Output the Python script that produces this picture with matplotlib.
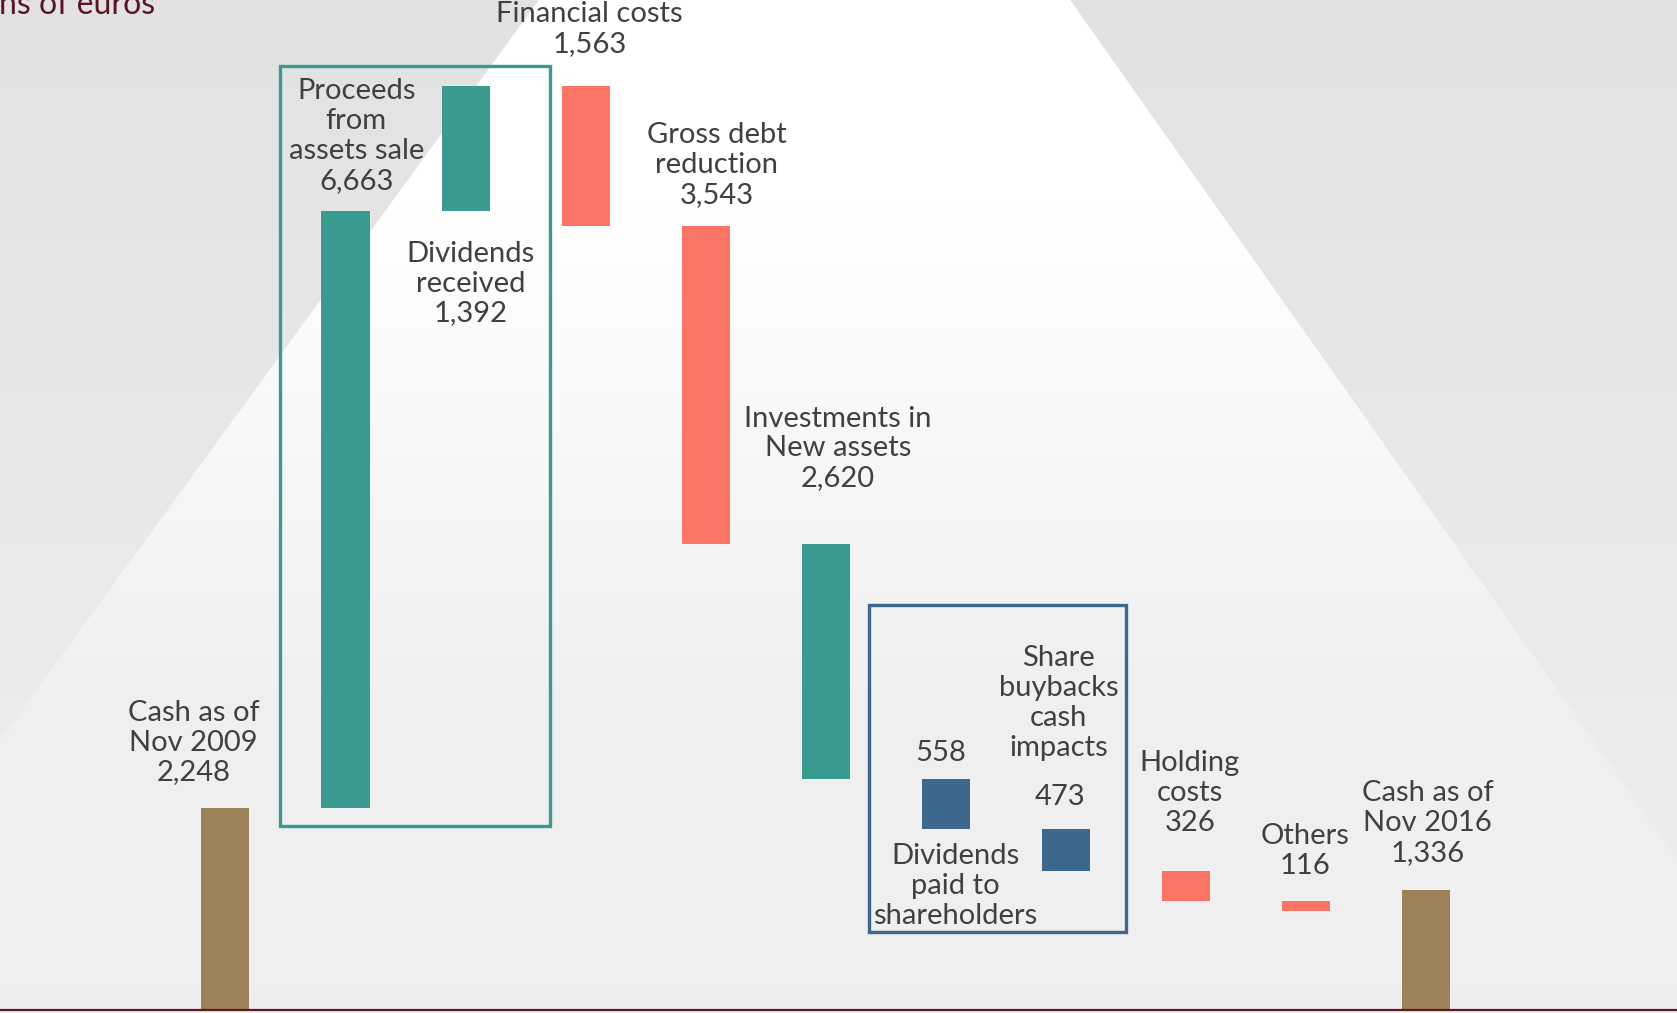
import numpy as np
import matplotlib
matplotlib.use("Agg")
import matplotlib.pyplot as plt
from matplotlib.patches import Rectangle

# ---------------- data ----------------
categories = ["Cash as of\nNov 2009", "Proceeds\nfrom\nassets sale", "Dividends\nreceived",
              "Financial costs", "Gross debt\nreduction", "Investments in\nNew assets",
              "Dividends\npaid to\nshareholders", "Share\nbuybacks\ncash\nimpacts",
              "Holding\ncosts", "Others", "Cash as of\nNov 2016"]
values = [2248, 6663, 1392, -1563, -3543, -2620, -558, -473, -326, -116, 1336]
is_total = [True, False, False, False, False, False, False, False, False, False, True]
bar_colors = ["#9c8259", "#3a9a8f", "#3a9a8f", "#fb7466", "#fb7466", "#3a9a8f",
              "#3c688e", "#3c688e", "#fb7466", "#fb7466", "#9c8259"]
unit_text = "In millions of euros"

# label layout (x offset from bar, y centre in data units); value shown apart for some
label_dx = [-0.265, 0.09, 0.04, 0.03, 0.09, 0.10, 0.08, -0.06, 0.03, -0.01, 0.01]
label_y = [2981, 9743, 8097, 10935, 9421, 6261, 1384, 3422, 2420, 1776, 2087]
separate_value = {6: (-0.04, 2862), 7: (-0.05, 2373)}

TEXT_C = "#404040"
FONT = ["Lato", "DejaVu Sans"]
FS = 21
LS = 1.18

W, H = 1677, 1013
fig = plt.figure(figsize=(W / 100, H / 100), dpi=100)

# ---------------- background (spotlight trapezoid) ----------------
bg = fig.add_axes([0, 0, 1, 1])
bg.set_axis_off()
yy, xx = np.mgrid[0:H, 0:W].astype(float)
outside = 0.886 + (0.922 - 0.886) * np.clip(yy / 700, 0, 1) + (0.935 - 0.922) * np.clip((yy - 700) / 313, 0, 1)
inside = 1.0 - 0.06 * np.clip((yy - 200) / 500, 0, 1) - 0.003 * np.clip((yy - 700) / 313, 0, 1)
left_edge = 538 - (506 / 695) * yy
right_edge = 1070 + (491 / 695) * yy
mask = np.clip(np.minimum(xx - left_edge, right_edge - xx) + 0.5, 0, 1)
img = outside * (1 - mask) + inside * mask
bg.imshow(np.dstack([img, img, img]), extent=[0, W, H, 0], aspect="auto", interpolation="bilinear")
bg.set_xlim(0, W)
bg.set_ylim(H, 0)

# ---------------- waterfall ----------------
ax = fig.add_axes([0, 0, 1, 1])
ax.patch.set_alpha(0)
ax.set_xlim(-1.877, 12.087)
ax.set_ylim(-33.4, 11260)
ax.set_axis_off()

x = np.arange(len(values))
bottoms, heights = [], []
level = 0
for v, tot in zip(values, is_total):
    if tot:
        bottoms.append(0)
        heights.append(v)
        level = v
    else:
        bottoms.append(level if v >= 0 else level + v)
        heights.append(abs(v))
        level += v

ax.bar(x, heights, bottom=bottoms, width=0.40, color=bar_colors, zorder=3)
ax.axhline(0, color="#5c1a24", lw=1.6, zorder=4)

for i, (cat, v) in enumerate(zip(categories, values)):
    if i in separate_value:
        txt = cat
        dx, vy = separate_value[i]
        ax.text(x[i] + dx, vy, f"{abs(v):,}", ha="center", va="center",
                fontsize=FS, color=TEXT_C, family=FONT, zorder=5)
    else:
        txt = f"{cat}\n{abs(v):,}"
    ax.text(x[i] + label_dx[i], label_y[i], txt, ha="center", va="center",
            fontsize=FS, color=TEXT_C, family=FONT, linespacing=LS, zorder=5)

# highlight boxes
ax.add_patch(Rectangle((0.456, 2051), 2.70 - 0.456, 10529 - 2051, fill=False,
                       ec="#3a9a8f", lw=2.4, zorder=2))
ax.add_patch(Rectangle((5.363, 870), 7.50 - 5.363, 4519 - 870, fill=False,
                       ec="#3c688e", lw=2.4, zorder=2))

fig.text(155 / W, 1 - 14 / H, unit_text, ha="right", va="baseline",
         fontsize=23, color="#5b1426", family=FONT)

fig.savefig("out.png", dpi=100)
